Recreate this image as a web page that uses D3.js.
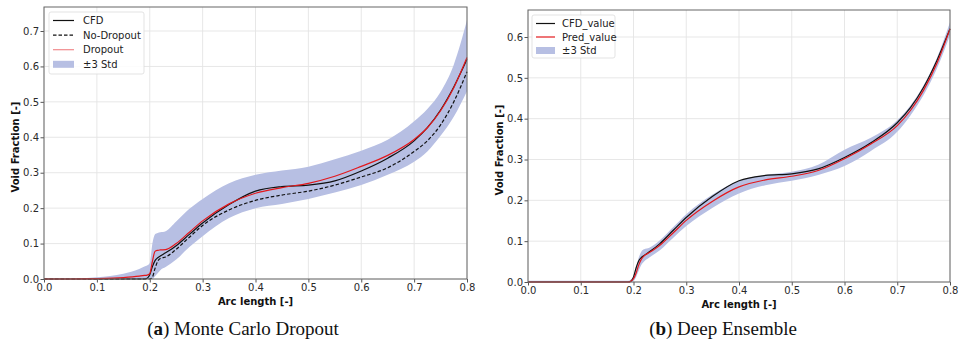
<!DOCTYPE html>
<html>
<head>
<meta charset="utf-8">
<script src="https://cdn.jsdelivr.net/npm/d3@7"></script>
<style>
  body { margin: 0; background: #fff; }
  svg { display: block; }
  .tick text { font-family: 'DejaVu Sans', sans-serif; font-size: 10px; fill: #2a2a2a; }
  .axis-title { font-family: 'DejaVu Sans', sans-serif; font-size: 10px; font-weight: bold; fill: #111; }
  .legend text { font-family: 'DejaVu Sans', sans-serif; font-size: 10px; fill: #222; }
  .caption { font-family: 'Liberation Serif', serif; font-size: 19px; fill: #111; }
</style>
</head>
<body>
<script>
'use strict'

const width = 960
const height = 350

// arc length samples shared by every series
const arcLength = [0, 0.05, 0.1, 0.15, 0.18, 0.19, 0.195, 0.2, 0.205, 0.21, 0.215, 0.22, 0.23, 0.25,
  0.275, 0.3, 0.35, 0.4, 0.45, 0.5, 0.55, 0.6, 0.65, 0.7, 0.725, 0.75, 0.775, 0.8]

const cfd = [0, 0, 0, 0, 0, 0, 0.002, 0.012, 0.035, 0.052, 0.06, 0.065, 0.074, 0.094,
  0.126, 0.158, 0.21, 0.248, 0.261, 0.265, 0.277, 0.305, 0.341, 0.39, 0.427, 0.477, 0.542, 0.62]

// (a) Monte Carlo Dropout
const noDropout = [0, 0, 0, 0, 0, 0, 0, 0, 0.005, 0.03, 0.05, 0.058, 0.062, 0.084,
  0.118, 0.151, 0.195, 0.222, 0.237, 0.248, 0.265, 0.288, 0.314, 0.36, 0.39, 0.435, 0.5, 0.585]
const dropout = [0, 0, 0.001, 0.004, 0.008, 0.01, 0.011, 0.015, 0.05, 0.078, 0.081, 0.082, 0.083, 0.1,
  0.132, 0.164, 0.212, 0.242, 0.258, 0.27, 0.29, 0.318, 0.349, 0.394, 0.427, 0.475, 0.54, 0.625]
const dropoutUpper = [0.0005, 0.001, 0.005, 0.015, 0.028, 0.035, 0.038, 0.045, 0.1, 0.126, 0.13, 0.132, 0.135, 0.162,
  0.198, 0.226, 0.27, 0.294, 0.306, 0.317, 0.338, 0.362, 0.393, 0.445, 0.48, 0.528, 0.605, 0.73]
const dropoutLower = [0, 0, 0, 0, 0, 0, 0, 0, 0, 0.008, 0.016, 0.025, 0.034, 0.055,
  0.09, 0.121, 0.172, 0.2, 0.212, 0.226, 0.244, 0.265, 0.294, 0.331, 0.36, 0.404, 0.458, 0.53]

// (b) Deep Ensemble
const pred = [0, 0, 0, 0, 0, 0, 0.002, 0.008, 0.022, 0.042, 0.056, 0.064, 0.072, 0.09,
  0.12, 0.151, 0.198, 0.233, 0.25, 0.259, 0.273, 0.302, 0.338, 0.383, 0.42, 0.47, 0.535, 0.62]
const predUpper = [0.003, 0.003, 0.003, 0.003, 0.003, 0.003, 0.006, 0.016, 0.036, 0.06, 0.075, 0.08, 0.084, 0.102,
  0.134, 0.166, 0.214, 0.248, 0.262, 0.27, 0.287, 0.324, 0.353, 0.396, 0.432, 0.482, 0.548, 0.636]
const predLower = [0, 0, 0, 0, 0, 0, 0, 0.002, 0.012, 0.028, 0.042, 0.05, 0.06, 0.078,
  0.108, 0.137, 0.182, 0.217, 0.237, 0.248, 0.262, 0.284, 0.321, 0.368, 0.408, 0.458, 0.522, 0.605]

const xTicks = [0, 0.1, 0.2, 0.3, 0.4, 0.5, 0.6, 0.7, 0.8]
const yTicksA = [0, 0.1, 0.2, 0.3, 0.4, 0.5, 0.6, 0.7]
const yTicksB = [0, 0.1, 0.2, 0.3, 0.4, 0.5, 0.6]

const bandColor = '#b7bfe3'
const red = '#e3181c'

const svg = d3.select('body').append('svg')
  .attr('width', width)
  .attr('height', height)

function zip (ys) {
  return arcLength.map((x, i) => ({ x: x, y: ys[i] }))
}

function drawPanel (p) {
  const x = d3.scaleLinear().domain([0, 0.8]).range([p.left, p.right])
  const y = d3.scaleLinear().domain([0, p.yMax]).range([p.bottom, p.top])

  const g = svg.append('g')

  // grid
  g.append('g').selectAll('line').data(xTicks).enter().append('line')
    .attr('x1', d => x(d)).attr('x2', d => x(d))
    .attr('y1', p.top).attr('y2', p.bottom)
    .attr('stroke', '#e4e4e4').attr('stroke-width', 0.9)
  g.append('g').selectAll('line').data(p.yTicks).enter().append('line')
    .attr('x1', p.left).attr('x2', p.right)
    .attr('y1', d => y(d)).attr('y2', d => y(d))
    .attr('stroke', '#e4e4e4').attr('stroke-width', 0.9)

  // uncertainty band
  const band = arcLength.map((v, i) => ({ x: v, lo: p.lower[i], hi: p.upper[i] }))
  g.append('path')
    .datum(band)
    .attr('fill', bandColor)
    .attr('d', d3.area()
      .curve(d3.curveMonotoneX)
      .x(d => x(d.x))
      .y0(d => y(d.lo))
      .y1(d => y(d.hi)))

  const line = d3.line()
    .curve(d3.curveMonotoneX)
    .x(d => x(d.x))
    .y(d => y(d.y))

  p.lines.forEach(function (s) {
    g.append('path')
      .datum(zip(s.values))
      .attr('fill', 'none')
      .attr('stroke', s.color)
      .attr('stroke-width', 1.2)
      .attr('stroke-dasharray', s.dash || null)
      .attr('d', line)
  })

  // axes
  const xAxis = g.append('g')
    .attr('transform', 'translate(0,' + p.bottom + ')')
    .call(d3.axisBottom(x).tickValues(xTicks).tickFormat(d3.format('.1f')).tickSize(3.5).tickPadding(1.5))
  const yAxis = g.append('g')
    .attr('transform', 'translate(' + p.left + ',0)')
    .call(d3.axisLeft(y).tickValues(p.yTicks).tickFormat(d3.format('.1f')).tickSize(3.5).tickPadding(1.5))
  ;[xAxis, yAxis].forEach(a => {
    a.select('.domain').remove()
    a.selectAll('.tick line').attr('stroke', '#555')
  })

  g.append('rect')
    .attr('x', p.left).attr('y', p.top)
    .attr('width', p.right - p.left).attr('height', p.bottom - p.top)
    .attr('fill', 'none').attr('stroke', '#666').attr('stroke-width', 1)

  g.append('text')
    .attr('class', 'axis-title')
    .attr('x', (p.left + p.right) / 2)
    .attr('y', p.bottom + 26)
    .attr('text-anchor', 'middle')
    .text('Arc length [-]')

  g.append('text')
    .attr('class', 'axis-title')
    .attr('transform', 'translate(' + (p.left - 25) + ',' + ((p.top + p.bottom) / 2 + 4) + ') rotate(-90)')
    .attr('text-anchor', 'middle')
    .text('Void Fraction [-]')

  // legend
  const lg = g.append('g').attr('class', 'legend')
  lg.append('rect')
    .attr('x', p.legend.x).attr('y', p.legend.y)
    .attr('width', p.legend.w).attr('height', p.legend.h)
    .attr('rx', 2)
    .attr('fill', '#fff').attr('fill-opacity', 0.85)
    .attr('stroke', '#dcdcdc').attr('stroke-width', 0.8)
  p.legend.items.forEach(function (it, i) {
    const cy = p.legend.y + 8.5 + i * p.legend.step
    const hx = p.legend.x + 4
    if (it.type === 'band') {
      lg.append('rect')
        .attr('x', hx).attr('y', cy - 3.5)
        .attr('width', p.legend.handle).attr('height', 7)
        .attr('fill', bandColor)
    } else {
      lg.append('line')
        .attr('x1', hx).attr('x2', hx + p.legend.handle)
        .attr('y1', cy).attr('y2', cy)
        .attr('stroke', it.color)
        .attr('stroke-opacity', it.opacity || 1)
        .attr('stroke-width', 1.2)
        .attr('stroke-dasharray', it.dash || null)
    }
    lg.append('text')
      .attr('x', hx + p.legend.handle + p.legend.gap)
      .attr('y', cy + 3.5)
      .text(it.label)
  })

  // caption
  const cap = svg.append('text')
    .attr('class', 'caption')
    .attr('x', p.captionX)
    .attr('y', 335)
    .attr('text-anchor', 'middle')
  cap.append('tspan').text('(')
  cap.append('tspan').attr('font-weight', 'bold').text(p.captionTag)
  cap.append('tspan').text(') ' + p.caption)
}

drawPanel({
  left: 44, right: 467, top: 7, bottom: 279,
  yMax: 0.7 * 272 / 248,
  yTicks: yTicksA,
  upper: dropoutUpper, lower: dropoutLower,
  lines: [
    { values: noDropout, color: '#111', dash: '3.5,2' },
    { values: cfd, color: '#111' },
    { values: dropout, color: red }
  ],
  legend: {
    x: 49, y: 12, w: 95, h: 62, step: 14.6, handle: 21, gap: 9,
    items: [
      { label: 'CFD', color: '#111' },
      { label: 'No-Dropout', color: '#111', dash: '3.5,2' },
      { label: 'Dropout', color: red, opacity: 0.5 },
      { label: '±3 Std', type: 'band' }
    ]
  },
  captionX: 243, captionTag: 'a', caption: 'Monte Carlo Dropout'
})

drawPanel({
  left: 528, right: 950, top: 10, bottom: 282,
  yMax: 0.6 * 272 / 245,
  yTicks: yTicksB,
  upper: predUpper, lower: predLower,
  lines: [
    { values: cfd, color: '#111' },
    { values: pred, color: red }
  ],
  legend: {
    x: 532, y: 15, w: 83, h: 43, step: 13.5, handle: 19, gap: 7,
    items: [
      { label: 'CFD_value', color: '#111' },
      { label: 'Pred_value', color: red },
      { label: '±3 Std', type: 'band' }
    ]
  },
  captionX: 723, captionTag: 'b', caption: 'Deep Ensemble'
})
</script>
</body>
</html>
